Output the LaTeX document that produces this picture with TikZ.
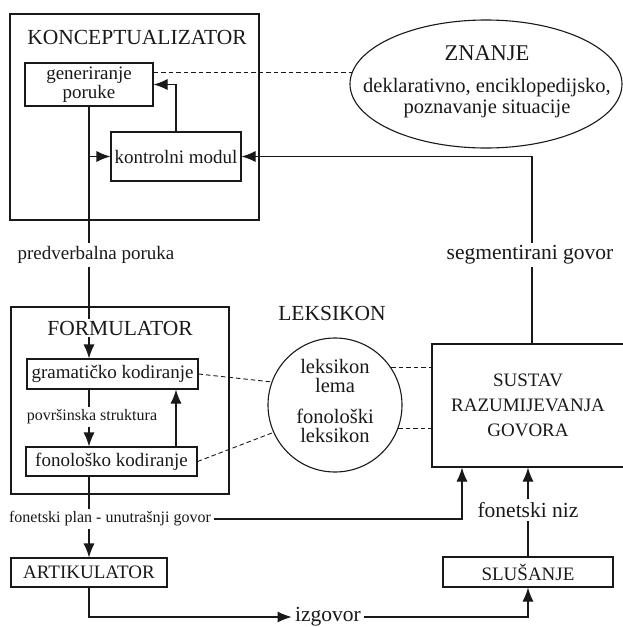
\documentclass[tikz,border=0pt]{standalone}
\usepackage{fontspec}
\setmainfont{Liberation Serif}
\usetikzlibrary{positioning, shapes, arrows.meta}

\begin{document}
\begin{tikzpicture}[x=1pt, y=-1pt, line width=1.1pt, color=black!90,
  box/.style={draw, inner sep=0pt},
  lbl/.style={fill=white, inner sep=3pt},
  big/.style={font=\fontsize{21.5}{24}\selectfont},
  mid/.style={font=\fontsize{19}{19}\selectfont},
  small/.style={font=\fontsize{16}{18}\selectfont},
  arr/.style={-{Latex[length=14pt,width=11pt]}},
  dashline/.style={dash pattern=on 4.5pt off 3pt, line width=0.9pt}]
\useasboundingbox (0,0) rectangle (623,627);

\node[box, minimum width=249pt, minimum height=206pt] (konc) at (134.5,117) {};
\node[big] (konctitle) at (137,37) {KONCEPTUALIZATOR};
\node[box, mid, align=center, minimum width=128pt, minimum height=43pt] (gen) at (89,84.5) {generiranje\\poruke};
\node[box, mid, minimum width=130pt, minimum height=49pt] (kontr) at (176,156.5) {kontrolni modul};
\node[draw, ellipse, minimum width=272pt, minimum height=128pt] (znanje) at (486,84) {};
\node[big, font=\fontsize{22.5}{24}\selectfont] (znanjetitle) at (487,53) {ZNANJE};
\node[align=center, font=\fontsize{20.5}{21}\selectfont] (znanjetext) at (487,98) {deklarativno, enciklopedijsko,\\poznavanje situacije};

\node[box, minimum width=218pt, minimum height=187pt] (form) at (120,400.5) {};
\node[box, mid, minimum width=171pt, minimum height=30pt] (gram) at (112.5,374) {gramatičko kodiranje};
\node[box, mid, minimum width=171pt, minimum height=29pt] (fon) at (111.5,461.5) {fonološko kodiranje};
\node[big] (lextitle) at (332,313) {LEKSIKON};
\node[draw, circle, minimum size=134pt] (lex) at (335,405) {};
\node[align=center, font=\fontsize{20.5}{19}\selectfont] (lexlema) at (335,376) {leksikon\\lema};
\node[align=center, font=\fontsize{20.5}{19}\selectfont] (lexfon) at (335,426) {fonološki\\leksikon};
\node[box, align=center, font=\fontsize{19}{25}\selectfont, minimum width=192pt, minimum height=123pt] (sustav) at (528,405.5) {SUSTAV\\RAZUMIJEVANJA\\GOVORA};

\node[box, mid, minimum width=156pt, minimum height=29pt] (artik) at (89,572.5) {ARTIKULATOR};
\node[box, mid, minimum width=170pt, minimum height=30pt] (slus) at (528,572) {SLUŠANJE};

\draw[arr] (gen.south) -- (gram.north -| gen.south);
\draw[arr] (gen.south |- kontr.west) -- (kontr.west);
\draw[arr] (kontr.north) |- (gen.east);
\draw[arr] ([xshift=4pt]sustav.north) |- (kontr.east);
\draw[arr] (gram.south -| gen.south) -- (fon.north -| gen.south);
\draw[arr] ([xshift=64.5pt]fon.north) -- ([xshift=63.5pt]gram.south);
\draw[arr] (fon.south -| artik.north) -- (artik.north);
\draw[arr] (slus.north) -- (sustav.south);

\node[big, fill=white, inner sep=2pt] (formtitle) at (120,328) {FORMULATOR};
\node[lbl, mid] (pred) at (96,255) {predverbalna poruka};
\node[lbl, big] (segm) at (530,255) {segmentirani govor};
\node[lbl, small] (povr) at (92,417) {površinska struktura};
\node[lbl, small] (plan) at (110,519) {fonetski plan - unutrašnji govor};
\node[lbl, big] (niz) at (528,510) {fonetski niz};
\node[lbl, big] (izg) at (328,617) {izgovor};

\draw[arr] (plan.east) -| ([xshift=-66pt]sustav.south);
\draw[arr] (artik.south) |- (izg.west);
\draw[arr] (izg.east) -| (slus.south);

\draw[dashline] (gen.east |- znanje.175) -- (znanje.175);
\draw[dashline] (gram.east) -- (lex.160);
\draw[dashline] (fon.east) -- (lex.204);
\draw[dashline] (lex.34) -- (lex.34 -| sustav.west);
\draw[dashline] (lex.-20) -- (lex.-20 -| sustav.west);
\end{tikzpicture}
\end{document}
